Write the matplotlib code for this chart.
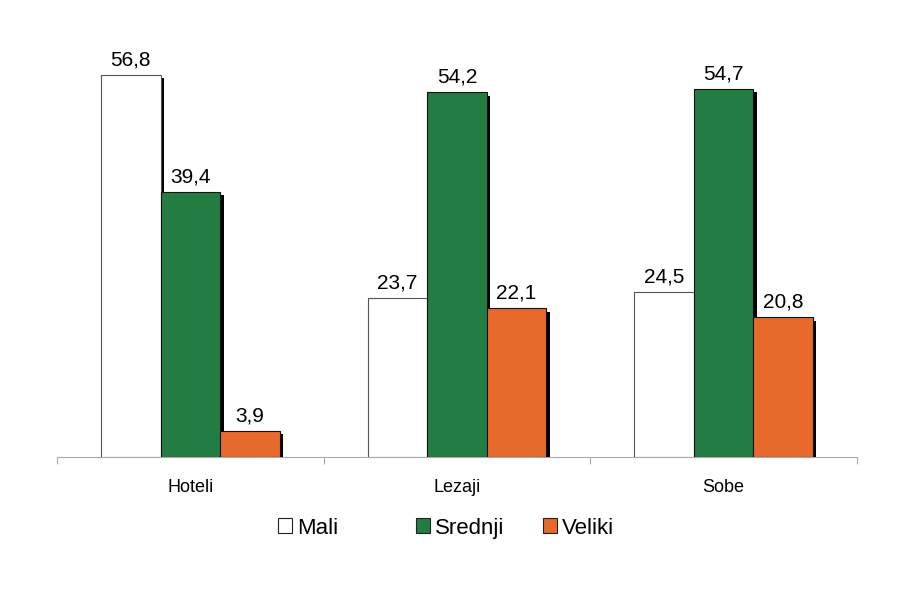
import numpy as np
import matplotlib.pyplot as plt
import matplotlib.patheffects as pe
from matplotlib.patches import Patch

plt.rcParams['font.family'] = ['Liberation Sans', 'DejaVu Sans']

categories = ['Hoteli', 'Lezaji', 'Sobe']
series = ['Mali', 'Srednji', 'Veliki']
mali = [56.8, 23.7, 24.5]
srednji = [39.4, 54.2, 54.7]
veliki = [3.9, 22.1, 20.8]

colors = ['#ffffff', '#237d42', '#e8692c']
edges = ['#555555', '#111111', '#111111']

fig = plt.figure(figsize=(9.15, 5.98), dpi=100)
ax = fig.add_axes([0.0623, 0.2358, 0.8743, 0.675])

x = np.arange(len(categories))
w = 0.223
shadow = [pe.SimplePatchShadow(offset=(2.5, -2.5), shadow_rgbFace='black', alpha=1), pe.Normal()]

for i, (vals, c, ec) in enumerate(zip([mali, srednji, veliki], colors, edges)):
    bars = ax.bar(x + (i - 1) * w, vals, w, color=c, edgecolor=ec, linewidth=0.8,
                  label=series[i], zorder=3)
    for b, v in zip(bars, vals):
        b.set_path_effects(shadow)
        ax.text(b.get_x() + b.get_width() / 2, v + 0.8, f'{v:.1f}'.replace('.', ','),
                ha='center', va='bottom', fontsize=15)

ax.set_xlim(-0.5, 2.5)
ax.set_ylim(0, 60)
ax.set_yticks([])
for s in ['top', 'right', 'left']:
    ax.spines[s].set_visible(False)
ax.spines['bottom'].set_color('#aaaaaa')
ax.set_xticks([-0.5, 0.5, 1.5, 2.5], minor=False)
ax.set_xticklabels([])
ax.tick_params(axis='x', which='major', length=5, color='#aaaaaa', direction='out')
ax.set_xticks(x, minor=True)
ax.set_xticklabels(categories, minor=True, fontsize=13)
ax.tick_params(axis='x', which='minor', length=0, pad=16)

# legend entries placed one by one, like the original's uneven spacing
legend_x = [278, 416, 543]
for lx, name, c in zip(legend_x, series, colors):
    h = Patch(facecolor=c, edgecolor='#222222', linewidth=0.8)
    fig.legend([h], [name], loc='center left', bbox_to_anchor=(lx / 915, 0.117),
               frameon=False, fontsize=16, handlelength=0.65, handleheight=0.65,
               handletextpad=0.22, borderpad=0, borderaxespad=0)

fig.savefig('out.png', dpi=100)
